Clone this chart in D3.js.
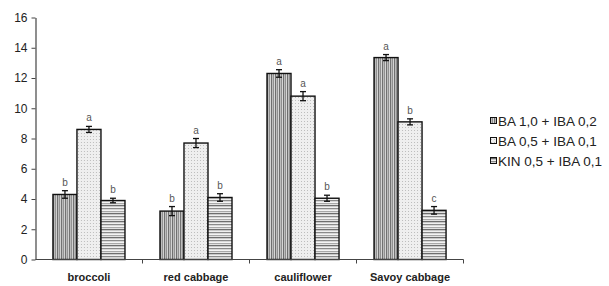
<!DOCTYPE html>
<html><head><meta charset="utf-8">
<script src="https://cdn.jsdelivr.net/npm/d3@7"></script>
<style>body{margin:0;background:#fff}svg{display:block}</style>
</head><body><svg id="c" width="609" height="286"></svg>
<script>
const categories = ["broccoli", "red cabbage", "cauliflower", "Savoy cabbage"];
const seriesNames = ["BA 1,0 + IBA 0,2", "BA 0,5 + IBA 0,1", "KIN 0,5 + IBA 0,1"];
const values = [
  [4.3, 8.6, 3.9],
  [3.2, 7.7, 4.1],
  [12.3, 10.8, 4.05],
  [13.35, 9.1, 3.25]
];
const errors = [
  [0.25, 0.2, 0.15],
  [0.3, 0.3, 0.25],
  [0.25, 0.3, 0.2],
  [0.2, 0.2, 0.25]
];
const letters = [
  ["b", "a", "b"],
  ["b", "a", "b"],
  ["a", "a", "b"],
  ["a", "b", "c"]
];
const yTicks = [0, 2, 4, 6, 8, 10, 12, 14, 16];

const svg = d3.select("#c");
const defs = svg.append("defs");
const p1 = defs.append("pattern").attr("id","p0").attr("patternUnits","userSpaceOnUse").attr("width",4).attr("height",4);
[["#6e6e6e",0],["#bdbdbd",1],["#8f8f8f",2],["#d6d6d6",3]].forEach(([c,x])=>p1.append("rect").attr("x",x).attr("y",0).attr("width",1).attr("height",4).attr("fill",c));
const p2 = defs.append("pattern").attr("id","p1").attr("patternUnits","userSpaceOnUse").attr("width",3).attr("height",3);
p2.append("rect").attr("width",3).attr("height",3).attr("fill","#efefef");
p2.append("rect").attr("x",1).attr("y",1).attr("width",1).attr("height",1).attr("fill","#bdbdbd");
const p3 = defs.append("pattern").attr("id","p2").attr("patternUnits","userSpaceOnUse").attr("width",4).attr("height",8);
[["#8a8a8a",0],["#d6d6d6",1],["#f4f4f4",2],["#a8a8a8",3],["#e2e2e2",4],["#6e6e6e",5],["#c8c8c8",6],["#f0f0f0",7]].forEach(([c,yy])=>p3.append("rect").attr("x",0).attr("y",yy).attr("width",4).attr("height",1).attr("fill",c));

const mLeft = 35.5, mRight = 463.5, mTop = 17.5, mBottom = 259.5;
const y = d3.scaleLinear().domain([0,16]).range([mBottom, mTop]);
const x0 = d3.scaleBand().domain(categories).range([mLeft, mRight]).paddingInner(0.327).paddingOuter(0.163);
const x1 = d3.scaleBand().domain(d3.range(seriesNames.length)).range([0, x0.bandwidth()]);

const ya = svg.append("g").attr("transform",`translate(${mLeft},0)`)
  .call(d3.axisLeft(y).tickValues(yTicks).tickSize(4).tickSizeOuter(0).tickFormat(d3.format("d")));
ya.select(".domain").attr("stroke","#444").attr("stroke-width",1.2);
ya.selectAll(".tick line").attr("stroke","#444");
ya.selectAll("text").attr("font-family","Liberation Sans, Arial, sans-serif").attr("font-size",12).attr("fill","#222").attr("x",-8);

const groups = svg.selectAll(".grp").data(categories).join("g")
  .attr("transform", d => `translate(${x0(d)},0)`);
groups.each(function(cat, ci){
  const g = d3.select(this);
  values[ci].forEach((v, si) => {
    const bx = x1(si), bw = x1.bandwidth();
    g.append("rect").attr("x", bx).attr("y", y(v)).attr("width", bw).attr("height", y(0) - y(v))
      .attr("fill", `url(#p${si})`).attr("stroke","#111").attr("stroke-width",1.4);
    const e = errors[ci][si], cx = bx + bw/2;
    g.append("line").attr("x1",cx).attr("x2",cx).attr("y1",y(v+e)).attr("y2",y(v-e)).attr("stroke","#111").attr("stroke-width",1.3);
    [v+e, v-e].forEach(t => g.append("line").attr("x1",cx-3).attr("x2",cx+3).attr("y1",y(t)).attr("y2",y(t)).attr("stroke","#111").attr("stroke-width",1.3));
    g.append("text").attr("x",cx).attr("y",y(v+e)-5).attr("text-anchor","middle")
      .attr("font-family","Liberation Sans, Arial, sans-serif").attr("font-size",10).attr("fill","#555").text(letters[ci][si]);
  });
});

const xa = svg.append("g").attr("transform",`translate(0,${mBottom})`);
xa.append("line").attr("x1",mLeft).attr("x2",mRight).attr("y1",0).attr("y2",0).attr("stroke","#444").attr("stroke-width",1.2);
const sep = d3.scaleBand().domain(categories).range([mLeft,mRight]);
categories.forEach(c => {
  const xe = sep(c) + sep.bandwidth();
  xa.append("line").attr("x1",xe).attr("x2",xe).attr("y1",0).attr("y2",4).attr("stroke","#444");
  xa.append("text").attr("x", sep(c) + sep.bandwidth()/2).attr("y",21).attr("text-anchor","middle")
    .attr("font-family","Liberation Sans, Arial, sans-serif").attr("font-weight","bold").attr("font-size",11).attr("fill","#222").text(c);
});

const lg = svg.append("g").attr("transform","translate(490,121)");
seriesNames.forEach((n, i) => {
  const r = lg.append("g").attr("transform",`translate(0,${i*20})`);
  r.append("rect").attr("x",0.5).attr("y",-3.5).attr("width",6).attr("height",6).attr("fill",`url(#p${i})`).attr("stroke","#111").attr("stroke-width",1);
  r.append("text").attr("x",8).attr("y",5).attr("font-family","Liberation Sans, Arial, sans-serif").attr("font-size",13.5).attr("fill","#222").text(n);
});
</script></body></html>
